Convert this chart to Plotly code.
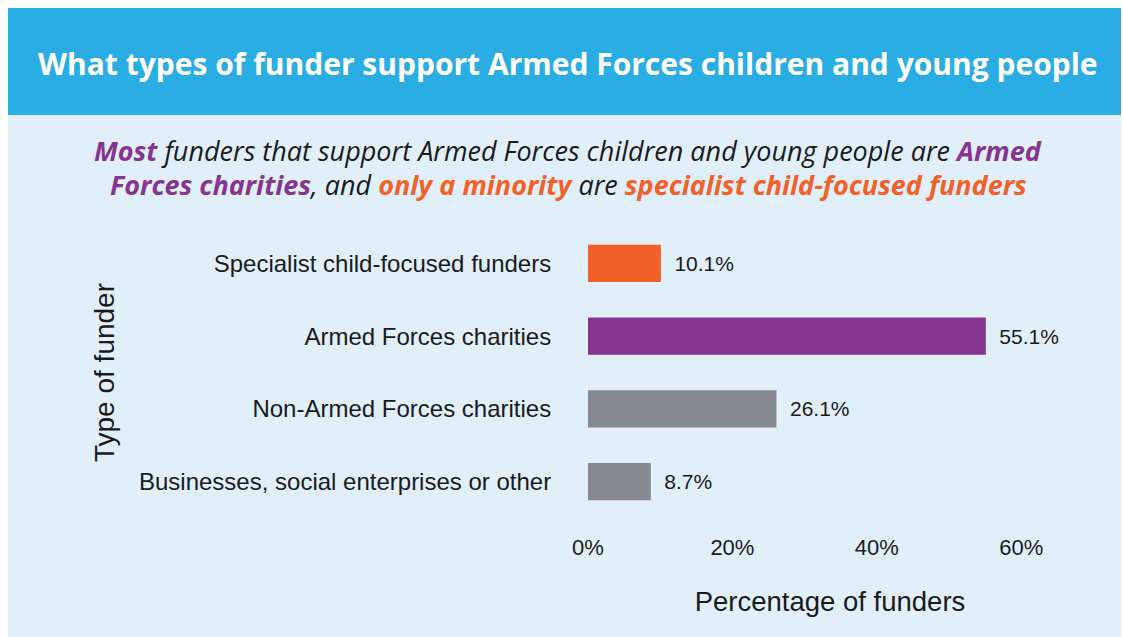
import plotly.graph_objects as go

# ---- data ----
categories = [
    "Specialist child-focused funders",
    "Armed Forces charities",
    "Non-Armed Forces charities",
    "Businesses, social enterprises or other",
]
values = [10.1, 55.1, 26.1, 8.7]
bar_colors = ["#F26129", "#85358F", "#85898F", "#85898F"]
x_tickvals = [0, 20, 40, 60]
x_ticktext = ["0%", "20%", "40%", "60%"]
title_text = "What types of funder support Armed Forces children and young people"
x_title = "Percentage of funders"
y_title = "Type of funder"

PURPLE = "#85358F"
ORANGE = "#F26129"

# ---- geometry ----
W, H = 1123, 637
L, R, T, B = 588, 51, 227, 119
pw = W - L - R
ph = H - T - B
px_per_pct = 7.22


def fx(x):
    return (x - L) / pw


def fy(y):
    return (H - B - y) / ph


fig = go.Figure(
    go.Bar(
        y=categories,
        x=values,
        orientation="h",
        marker=dict(color=bar_colors, line=dict(width=0)),
        width=0.51,
        text=[f"\u2002{v:.1f}%" for v in values],
        textposition="outside",
        textfont=dict(family="Liberation Sans, Arial, sans-serif", size=21, color="#1a1a1a"),
        cliponaxis=False,
        hoverinfo="skip",
    )
)

shapes = [
    # light panel
    dict(type="rect", xref="paper", yref="paper", x0=fx(8), x1=fx(1121), y0=fy(637), y1=fy(115),
         fillcolor="#E1EFFA", line=dict(width=0), layer="below"),
    # header
    dict(type="rect", xref="paper", yref="paper", x0=fx(8), x1=fx(1121), y0=fy(115), y1=fy(8),
         fillcolor="#29ADE3", line=dict(width=0), layer="below"),
]

sub_font = dict(family="Open Sans, sans-serif", size=27, color="#1a1a1a")
line1 = (f"<b><i><span style='color:{PURPLE}'>Most</span></i></b>"
         f"<i> funders that support Armed Forces children and young people are </i>"
         f"<b><i><span style='color:{PURPLE}'>Armed</span></i></b>")
line2 = (f"<b><i><span style='color:{PURPLE}'>Forces charities</span></i></b>"
         f"<i>, and </i>"
         f"<b><i><span style='color:{ORANGE}'>only a minority</span></i></b>"
         f"<i> are </i>"
         f"<b><i><span style='color:{ORANGE}'>specialist child-focused funders</span></i></b>")

annotations = [
    dict(text=f"<b>{title_text}</b>", xref="paper", yref="paper", x=fx(568), y=fy(63),
         xanchor="center", yanchor="middle", showarrow=False,
         font=dict(family="Open Sans, sans-serif", size=30, color="white")),
    dict(text=line1, xref="paper", yref="paper", x=fx(568), y=fy(150),
         xanchor="center", yanchor="middle", showarrow=False, font=sub_font),
    dict(text=line2, xref="paper", yref="paper", x=fx(568), y=fy(184),
         xanchor="center", yanchor="middle", showarrow=False, font=sub_font),
]

fig.update_layout(
    width=W,
    height=H,
    margin=dict(l=L, r=R, t=T, b=B, autoexpand=False),
    paper_bgcolor="white",
    plot_bgcolor="rgba(0,0,0,0)",
    showlegend=False,
    shapes=shapes,
    annotations=annotations,
    bargap=0.49,
    xaxis=dict(
        range=[0, pw / px_per_pct],
        tickvals=x_tickvals,
        ticktext=x_ticktext,
        tickfont=dict(family="Liberation Sans, Arial, sans-serif", size=22, color="#1a1a1a"),
        showgrid=False, zeroline=False, showline=False,
        ticks="outside", ticklen=10, tickcolor="rgba(0,0,0,0)",
        title=dict(text=x_title, standoff=32,
                   font=dict(family="Liberation Sans, Arial, sans-serif", size=27.5, color="#1a1a1a")),
        automargin=False,
        fixedrange=True,
    ),
    yaxis=dict(
        categoryorder="array",
        categoryarray=categories,
        autorange="reversed",
        tickfont=dict(family="Liberation Sans, Arial, sans-serif", size=24, color="#1a1a1a"),
        showgrid=False, zeroline=False, showline=False,
        ticks="outside", ticklen=31, tickcolor="rgba(0,0,0,0)",
        title=dict(text=y_title, standoff=16,
                   font=dict(family="Liberation Sans, Arial, sans-serif", size=28, color="#1a1a1a")),
        automargin=False,
        fixedrange=True,
    ),
)

fig.write_html("out.html", config=dict(displayModeBar=False))
